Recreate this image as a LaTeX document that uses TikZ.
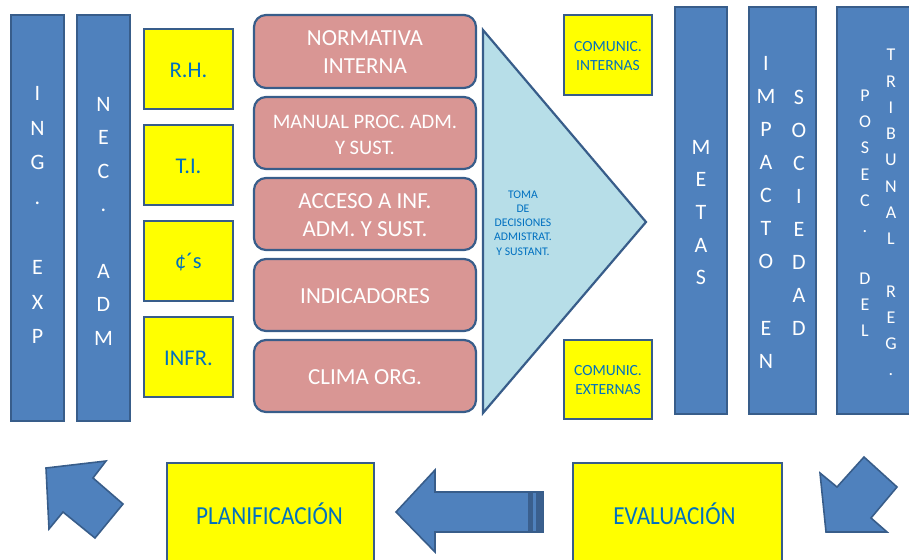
\documentclass[tikz,border=0pt]{standalone}
\usepackage{fontspec}
\setmainfont{Carlito}
\definecolor{barfill}{HTML}{4F81BD}
\definecolor{barline}{HTML}{385D8A}
\definecolor{pinkf}{HTML}{D99694}
\definecolor{trif}{HTML}{B7DEE8}
\definecolor{yel}{HTML}{FFFF00}
\definecolor{tblue}{HTML}{0070C0}
\definecolor{stripe}{HTML}{3A5F8E}
\begin{document}
\begin{tikzpicture}[x=1pt,y=-1pt,
  bar/.style={draw=barline,fill=barfill,line width=2.2pt},
  ybox/.style={draw=barline,fill=yel,line width=2.2pt},
  rbox/.style={draw=barline,fill=pinkf,line width=2.2pt,rounded corners=12pt},
  tri/.style={draw=barline,fill=trif,line width=2.2pt,line join=miter},
  arr/.style={draw=barline,fill=barfill,line width=1.6pt,line join=miter},
  vlet/.style={text=white,align=center,inner sep=0pt,font=\fontsize{22}{33.4}\selectfont},
  vsmall/.style={text=white,align=center,inner sep=0pt,font=\fontsize{18}{26.1}\selectfont},
  ytext/.style={text=tblue,align=center,inner sep=0pt,font=\fontsize{22.5}{26}\selectfont},
  ctext/.style={text=tblue,align=center,inner sep=0pt,font=\fontsize{15.5}{19}\selectfont},
  rtext/.style={text=white,align=center,inner sep=0pt,font=\fontsize{23}{28}\selectfont},
  rsmall/.style={text=white,align=center,inner sep=0pt,font=\fontsize{20.6}{25.5}\selectfont},
  btext/.style={text=tblue,inner sep=0pt,font=\fontsize{23.2}{26}\selectfont}
]
\useasboundingbox (0,0) rectangle (909,559);
% left bars
\draw[bar] (11,15) rectangle (64,421);
\node[vlet,font=\fontsize{22}{34.8}\selectfont,anchor=north] (ing) at (37.5,86) {I\\N\\G\\.\\\mbox{}\\E\\X\\P};
\draw[bar] (77,15) rectangle (130,421);
\node[vlet,anchor=north] (nec) at (103.5,97) {N\\E\\C\\.\\\mbox{}\\A\\D\\M};
% yellow boxes left
\draw[ybox] (144,29) rectangle (233,109);
\node[ytext] (rh) at (188.5,70) {R.H.};
\draw[ybox] (144,125) rectangle (233,205);
\node[ytext] (ti) at (188.5,166) {T.I.};
\draw[ybox] (144,221) rectangle (233,301);
\node[ytext] (cs) at (188.5,262) {¢´s};
\draw[ybox] (144,317) rectangle (233,397);
\node[ytext] (infr) at (188.5,358) {INFR.};
% red rounded boxes
\draw[rbox] (254,15) rectangle (476,88);
\node[rtext] (norm) at (365,52) {NORMATIVA\\INTERNA};
\draw[rbox] (254,97) rectangle (476,169);
\node[rsmall] (man) at (365,135) {MANUAL PROC. ADM.\\Y SUST.};
\draw[rbox] (254,178) rectangle (476,250);
\node[rtext] (acc) at (365,215) {ACCESO A INF.\\ADM. Y SUST.};
\draw[rbox] (254,259) rectangle (476,331);
\node[rtext] (ind) at (365,296) {INDICADORES};
\draw[rbox] (254,340) rectangle (476,412);
\node[rtext] (clima) at (365,377) {CLIMA ORG.};
% triangle
\draw[tri] (483,30) -- (646,222) -- (483,413) -- cycle;
\node[text=tblue,align=center,inner sep=0pt,font=\fontsize{11.7}{14.2}\selectfont] (toma) at (523,223)
  {TOMA\\DE\\DECISIONES\\ADMISTRAT.\\Y SUSTANT.};
% comunic boxes
\draw[ybox] (564,15) rectangle (652,95);
\node[ctext] (cint) at (608,56) {COMUNIC.\\INTERNAS};
\draw[ybox] (564,340) rectangle (652,419);
\node[ctext] (cext) at (608,380) {COMUNIC.\\EXTERNAS};
% right bars
\draw[bar] (675,7) rectangle (727,414);
\node[vlet,font=\fontsize{22}{32.6}\selectfont,anchor=north] (metas) at (701,140) {M\\E\\T\\A\\S};
\draw[bar] (749,7) rectangle (816,414);
\node[vlet,font=\fontsize{22}{33.1}\selectfont,anchor=north] (imp) at (766,56) {I\\M\\P\\A\\C\\T\\O\\\mbox{}\\E\\N};
\node[vlet,font=\fontsize{22}{33}\selectfont,anchor=north] (soc) at (799,90) {S\\O\\C\\I\\E\\D\\A\\D};
\draw[bar] (837,7) rectangle (940,414);
\node[vsmall,anchor=north] (posec) at (865,90) {P\\O\\S\\E\\C\\.\\\mbox{}\\D\\E\\L};
\node[vsmall,font=\fontsize{18}{26.25}\selectfont,anchor=north] (trib) at (891,49) {T\\R\\I\\B\\U\\N\\A\\L\\\mbox{}\\R\\E\\G\\.};
% bottom boxes
\draw[ybox] (167,463) rectangle (374,565);
\node[btext,yscale=1.12] (plan) at (269.5,514) {PLANIFICACIÓN};
\draw[ybox] (573,463) rectangle (782,565);
\node[btext,yscale=1.12] (eval) at (674.5,514) {EVALUACIÓN};
% middle left arrow
\draw[arr] (543,492) -- (435,492) -- (435,470) -- (396,512) -- (435,552) -- (435,532) -- (543,532) -- cycle;
\fill[stripe] (528,493) rectangle (533,531);
\fill[stripe] (536,493) rectangle (543,531);
% corner arrows
\draw[arr] (46,468) -- (106,461) -- (93,478) -- (123,504) -- (95,538) -- (63,512) -- (49,529) -- cycle;
\draw[arr] (820,473) -- (837,487) -- (864,457) -- (897,487) -- (871,518) -- (887,532) -- (826,532) -- cycle;
\end{tikzpicture}
\end{document}
